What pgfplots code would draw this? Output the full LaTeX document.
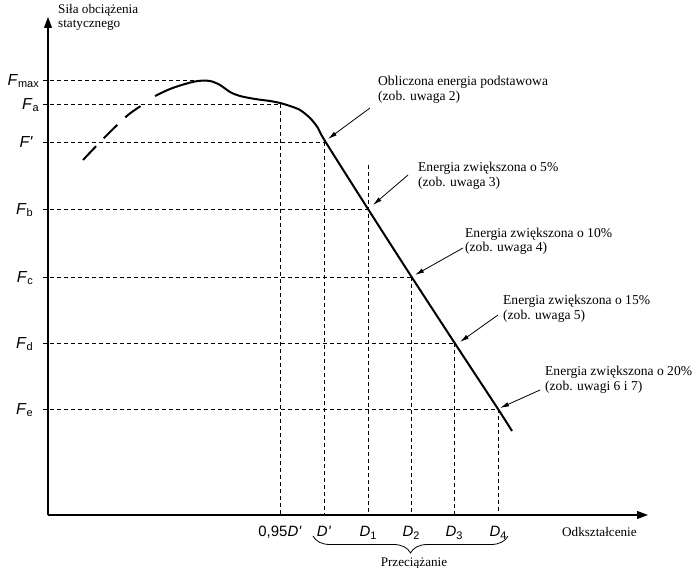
\documentclass[border=0pt]{standalone}
\usepackage{fontspec}
\setmainfont{Liberation Serif}
\newfontfamily\arial{Liberation Sans}
\usepackage{pgfplots}
\pgfplotsset{compat=1.18}
\usetikzlibrary{arrows.meta,decorations.pathreplacing}

\newcommand{\lab}[2]{\textit{#1}\raisebox{-2.5bp}[0pt][0pt]{\fontsize{11}{11}\selectfont #2}}

\begin{document}
\begin{tikzpicture}
\begin{axis}[
  x=1bp, y=1bp,
  xmin=0, xmax=600, ymin=0, ymax=498,
  axis lines=left,
  axis line style={line width=1.1bp},
  x axis line style={-{Triangle[length=11bp,width=8bp]}},
  y axis line style={-{Triangle[length=11bp,width=8bp]}},
  clip=false,
  major tick length=0pt,
  xtick={232,276,320,363,406,450},
  xticklabels={{0,95\textit{D\textquotesingle}},{\textit{D\textquotesingle}},{\lab{D}{1}},{\lab{D}{2}},{\lab{D}{3}},{\lab{D}{4}}},
  xticklabel style={font=\fontsize{15}{15}\arial, anchor=base, inner sep=0pt, yshift=-22bp},
  ytick={435,411,373,306,238,172,106},
  yticklabels={{\lab{F}{max}},{\lab{F}{a}},{\textit{F\textquotesingle}\hspace*{6bp}},{\lab{F}{b}\hspace*{6bp}},{\lab{F}{c}\hspace*{6bp}},{\lab{F}{d}\hspace*{6bp}},{\lab{F}{e}\hspace*{6bp}}},
  yticklabel style={font=\fontsize{16}{16}\arial, anchor=east, inner sep=0pt, xshift=-9bp},
  tick style={draw=none},
]
% dashed guide lines (horizontal)
\pgfplotsset{guide/.style={black, line width=0.7bp, dash pattern=on 4bp off 3bp}}
\addplot[guide] coordinates {(-5,435) (152,435)};
\addplot[guide] coordinates {(-5,411) (232,411)};
\addplot[guide] coordinates {(-5,373) (276,373)};
\addplot[guide] coordinates {(-5,306) (320,306)};
\addplot[guide] coordinates {(-5,238) (363,238)};
\addplot[guide] coordinates {(-5,172) (406,172)};
\addplot[guide] coordinates {(-5,106) (450,106)};
% vertical
\addplot[guide] coordinates {(232,411) (232,0)};
\addplot[guide] coordinates {(276,373) (276,0)};
\addplot[guide] coordinates {(320,350) (320,0)};
\addplot[guide] coordinates {(363,238) (363,0)};
\addplot[guide] coordinates {(406,172) (406,0)};
\addplot[guide] coordinates {(450,106) (450,0)};
% curve
\addplot[black, line width=2bp, smooth, dash pattern=on 19bp off 11bp] coordinates {(35,355) (57,378) (80,400) (99,413)};
\addplot[black, line width=2bp, smooth, tension=0.5] coordinates {(107,419) (122,426) (137,431) (150,434) (162,434) (172,430) (182,423) (192,419) (207,416) (222,414) (232,412) (242,409) (252,405) (262,397) (270,387) (277,374) (320,306) (363,239) (406,173) (450,106) (464,84)};
% annotations
\tikzset{ann/.style={anchor=base west, inner sep=0pt, font=\fontsize{13.6}{15}\selectfont},
         arr/.style={line width=0.8bp, -{Latex[length=9bp,width=4.5bp]}}}
\node[ann, font=\fontsize{13.2}{15}\selectfont] at (axis cs:10,501) {Siła obciążenia};
\node[ann, font=\fontsize{13.2}{15}\selectfont] at (axis cs:10,487) {statycznego};
\node[ann] at (axis cs:330,429) {Obliczona energia podstawowa};
\node[ann] at (axis cs:330,414) {(zob. uwaga 2)};
\node[ann] at (axis cs:370,343) {Energia zwiększona o 5\%};
\node[ann] at (axis cs:370,328) {(zob. uwaga 3)};
\node[ann] at (axis cs:417,277) {Energia zwiększona o 10\%};
\node[ann] at (axis cs:417,263) {(zob. uwaga 4)};
\node[ann] at (axis cs:455,210) {Energia zwiększona o 15\%};
\node[ann] at (axis cs:455,195) {(zob. uwaga 5)};
\node[ann] at (axis cs:497,139) {Energia zwiększona o 20\%};
\node[ann] at (axis cs:497,124) {(zob. uwagi 6 i 7)};
\draw[arr] (axis cs:322,407) -- (axis cs:280,376);
\draw[arr] (axis cs:360,340) -- (axis cs:325,310);
\draw[arr] (axis cs:415,267) -- (axis cs:367,240);
\draw[arr] (axis cs:450,200) -- (axis cs:412,173);
\draw[arr] (axis cs:492,125) -- (axis cs:452,107);
\node[ann, font=\fontsize{13.2}{15}\selectfont] at (axis cs:514,-22) {Odkształcenie};
\node[anchor=base, inner sep=0pt, font=\fontsize{13.2}{15}\selectfont] at (axis cs:366,-51) {Przeciążanie};
\draw[line width=0.8bp, decorate, decoration={brace, amplitude=17bp, mirror}] (axis cs:265,-21) -- (axis cs:460,-21);
\coordinate (bbll) at (axis cs:-48,-53);
\coordinate (bbur) at (axis cs:650,515);
\end{axis}
\pgfresetboundingbox
\useasboundingbox (bbll) rectangle (bbur);
\end{tikzpicture}
\end{document}
